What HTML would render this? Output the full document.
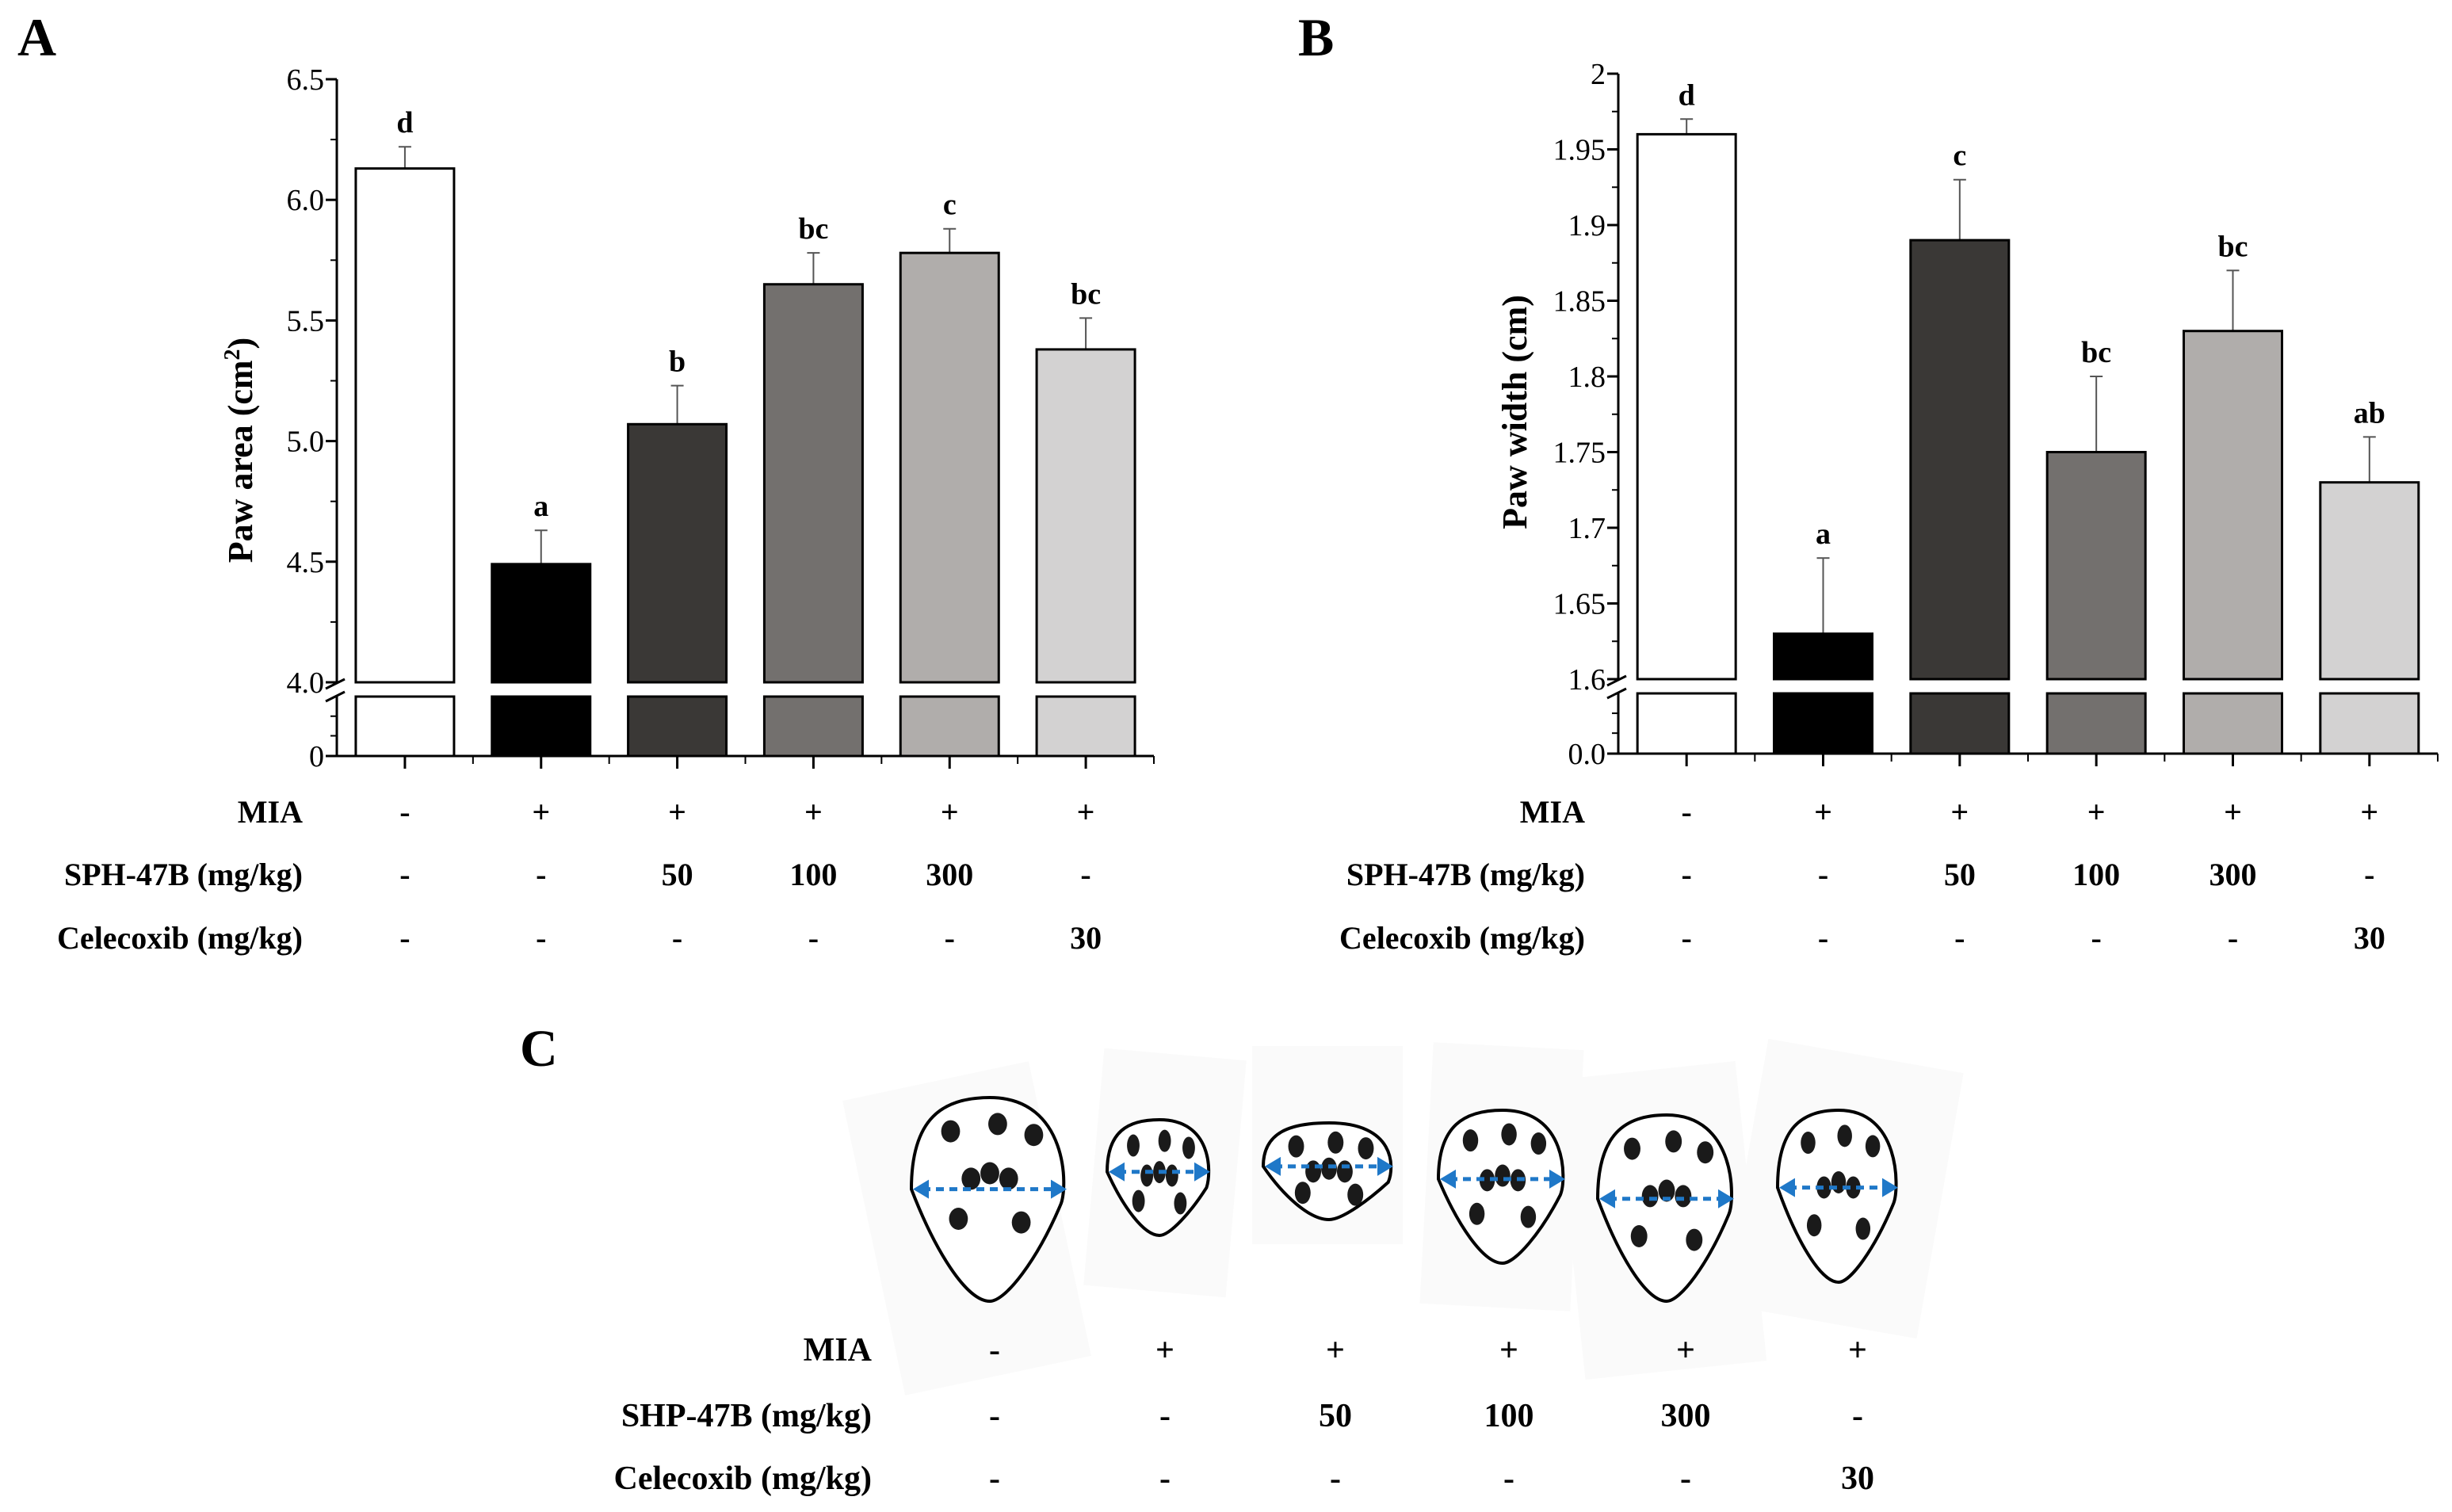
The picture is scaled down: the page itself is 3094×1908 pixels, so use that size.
<!DOCTYPE html>
<html><head><meta charset="utf-8">
<style>
html,body{margin:0;padding:0;background:#fff;}
svg{display:block;font-family:"Liberation Serif",serif;}
</style></head>
<body>
<svg id="fig" width="3094" height="1908" viewBox="0 0 3094 1908" xmlns="http://www.w3.org/2000/svg">
<g id="panelA"></g>
<g id="panelB"></g>
<g id="panelC"></g>
</svg>
<script>
const groups = ["Normal","MIA","SPH50","SPH100","SPH300","Celecoxib"];
const fills = ["#ffffff","#000000","#3a3836","#73706e","#b0adab","#d3d2d2"];
const mia = ["-","+","+","+","+","+"];
const sph = ["-","-","50","100","300","-"];
const cele = ["-","-","-","-","-","30"];
const areaValues = [6.13,4.49,5.07,5.65,5.78,5.38];
const areaErrors = [0.09,0.14,0.16,0.13,0.10,0.13];
const areaLetters = ["d","a","b","bc","c","bc"];
const areaTicks = ["4.0","4.5","5.0","5.5","6.0","6.5"];
const widthValues = [1.96,1.63,1.89,1.75,1.83,1.73];
const widthErrors = [0.01,0.05,0.04,0.05,0.04,0.03];
const widthLetters = ["d","a","c","bc","bc","ab"];
const widthTicks = ["1.6","1.65","1.7","1.75","1.8","1.85","1.9","1.95","2"];

const NS="http://www.w3.org/2000/svg";
function mk(parent,tag,attrs,text){const e=document.createElementNS(NS,tag);for(const k in attrs)e.setAttribute(k,attrs[k]);if(text!==undefined)e.textContent=text;parent.appendChild(e);return e;}

function drawPanel(g,opt){
  const axX=opt.axX, yTop=opt.yTop, yBreak=opt.yBreak, yLow=yBreak+18, y0=opt.y0, xEnd=opt.xEnd;
  const step=(xEnd-axX)/6;
  const xc=i=>axX+step*(i+0.5);
  const y=v=>yBreak-(v-opt.min)/(opt.max-opt.min)*(yBreak-yTop);
  const bw=124;
  let t=mk(g,'text',{x:opt.letterX,y:70,'font-size':68,'font-weight':'bold'},opt.letter);
  
  for(let i=0;i<groups.length;i++){
    const v=opt.values[i], e=opt.errors[i];
    let l=mk(g,'line',{x1:xc(i),x2:xc(i),y1:y(v),y2:y(v+e),stroke:'#555','stroke-width':2});
    
    mk(g,'line',{x1:xc(i)-8,x2:xc(i)+8,y1:y(v+e),y2:y(v+e),stroke:'#555','stroke-width':2});
    let r=mk(g,'rect',{x:xc(i)-bw/2,y:y(v),width:bw,height:yBreak-y(v),fill:fills[i],stroke:'#000','stroke-width':3});
    
    let r2=mk(g,'rect',{x:xc(i)-bw/2,y:yLow,width:bw,height:y0-yLow,fill:fills[i],stroke:'#000','stroke-width':3});
    
    let s=mk(g,'text',{x:xc(i),y:y(v+e)-18,'font-size':38,'font-weight':'bold','text-anchor':'middle'},opt.letters[i]);
    
  }
  let ax=mk(g,'line',{x1:axX,x2:axX,y1:yTop,y2:yBreak,stroke:'#000','stroke-width':3});
  
  mk(g,'line',{x1:axX,x2:axX,y1:yLow,y2:y0,stroke:'#000','stroke-width':3});
  mk(g,'line',{x1:axX-14,x2:axX+10,y1:yBreak+8,y2:yBreak-4,stroke:'#000','stroke-width':3});
  mk(g,'line',{x1:axX-14,x2:axX+10,y1:yLow+6,y2:yLow-6,stroke:'#000','stroke-width':3});
  const n=opt.ticks.length;
  for(let k=0;k<n;k++){
    const v=opt.min+k*(opt.max-opt.min)/(n-1), yy=y(v);
    mk(g,'line',{x1:axX-14,x2:axX,y1:yy,y2:yy,stroke:'#000','stroke-width':3});
    if(k<n-1){const ym=y(v+(opt.max-opt.min)/(n-1)/2);mk(g,'line',{x1:axX-8,x2:axX,y1:ym,y2:ym,stroke:'#000','stroke-width':2});}
    let tl=mk(g,'text',{x:axX-16,y:yy+13,'font-size':38,'text-anchor':'end'},opt.ticks[k]);
    
  }
  for(const f of [0.33,0.66]) {const yy=yLow+(y0-yLow)*f; mk(g,'line',{x1:axX-8,x2:axX,y1:yy,y2:yy,stroke:'#000','stroke-width':2});}
  let zl=mk(g,'text',{x:axX-16,y:y0+13,'font-size':38,'text-anchor':'end'},opt.zero);
  
  mk(g,'line',{x1:axX-14,x2:axX,y1:y0,y2:y0,stroke:'#000','stroke-width':3});
  let xa=mk(g,'line',{x1:axX,x2:xEnd,y1:y0,y2:y0,stroke:'#000','stroke-width':3});
  
  for(let i=0;i<6;i++){
    mk(g,'line',{x1:xc(i),x2:xc(i),y1:y0,y2:y0+16,stroke:'#000','stroke-width':3});
    mk(g,'line',{x1:axX+step*(i+1),x2:axX+step*(i+1),y1:y0,y2:y0+10,stroke:'#000','stroke-width':2});
  }
  let yt=mk(g,'text',{x:0,y:0,'font-size':44,'font-weight':'bold','text-anchor':'middle',transform:`translate(${opt.titleX},${opt.titleY}) rotate(-90)`});
  
  yt.appendChild(document.createTextNode(opt.title));
  if(opt.sup){mk(yt,'tspan',{'font-size':28,dy:-16},'2');mk(yt,'tspan',{dy:16},')');}
  const rows=[["MIA",mia,1025],["SPH-47B  (mg/kg)",sph,1104],["Celecoxib  (mg/kg)",cele,1184]];
  for(const [lab,arr,yy] of rows){
    let rl=mk(g,'text',{x:opt.rowLabelX,y:yy+13,'font-size':40,'font-weight':'bold','text-anchor':'end','xml:space':'preserve'},lab);
    
    for(let i=0;i<6;i++){
      let c=mk(g,'text',{x:xc(i),y:yy+13,'font-size':40,'font-weight':'bold','text-anchor':'middle'},arr[i]);
      
    }
  }
}
drawPanel(document.getElementById('panelA'),{axX:425,xEnd:1456,yTop:100,yBreak:861,y0:954,min:4.0,max:6.5,values:areaValues,errors:areaErrors,letters:areaLetters,ticks:areaTicks,zero:"0",letter:"A",letterX:22,title:"Paw area (cm",sup:true,titleX:318,titleY:568,rowLabelX:382});
drawPanel(document.getElementById('panelB'),{axX:2042,xEnd:3076,yTop:93,yBreak:857,y0:951,min:1.6,max:2.0,values:widthValues,errors:widthErrors,letters:widthLetters,ticks:widthTicks,zero:"0.0",letter:"B",letterX:1638,title:"Paw width (cm)",sup:false,titleX:1926,titleY:520,rowLabelX:2000});

const gc=document.getElementById('panelC');
let cl=mk(gc,'text',{x:656,y:1345,'font-size':66,'font-weight':'bold'},'C');

const paws=[[1150,1348,1385,1642],[1397,1529,1413,1559],[1594,1760,1417,1539],[1815,1977,1401,1594],[2016,2190,1407,1642],[2243,2397,1401,1618]];
const bgs=[[1100,1340,260,380,-12],[1380,1560,230,300,5],[1580,1770,220,250,0],[1800,1990,220,330,3],[1980,2210,250,380,-6],[2200,2450,230,340,10]];
bgs.forEach(b=>{mk(gc,'rect',{x:b[0],y:b[2]+1100,width:b[1]-b[0],height:b[3],fill:'#fafafa',transform:`rotate(${b[4]} ${(b[0]+b[1])/2} ${b[2]+1100+b[3]/2})`});});
paws.forEach((p,i)=>{
  const [x1,x2,y1,y2]=p, cx=(x1+x2)/2, w=x2-x1, h=y2-y1;
  const ay=y1+Math.min(h*0.45,120);
  const d=`M${cx} ${y1} C${x2} ${y1} ${x2} ${ay} ${x2-w*0.05} ${ay+20} C${x2-w*0.2} ${y2-h*0.2} ${cx+w*0.1} ${y2} ${cx} ${y2} C${cx-w*0.15} ${y2} ${x1+w*0.15} ${y2-h*0.25} ${x1} ${ay} C${x1} ${y1+h*0.1} ${cx-w*0.3} ${y1} ${cx} ${y1} Z`;
  let pp=mk(gc,'path',{d,fill:'#fff',stroke:'#000','stroke-width':4});
  
  [[-0.25,0.12],[0.05,0.08],[0.28,0.14],[0,0.35],[-0.12,0.38],[0.12,0.38],[-0.2,0.6],[0.2,0.62]].forEach(s=>{
    mk(gc,'ellipse',{cx:cx+s[0]*w,cy:y1+s[1]*Math.min(h,230)+15,rx:w*0.06,ry:14,fill:'#1a1a1a'});
  });
  let ar=mk(gc,'line',{x1:x1+14,x2:x2-14,y1:ay,y2:ay,stroke:'#1f78c8','stroke-width':5,'stroke-dasharray':'10 7'});
  
  mk(gc,'polygon',{points:`${x1+2},${ay} ${x1+22},${ay-12} ${x1+22},${ay+12}`,fill:'#1f78c8'});
  mk(gc,'polygon',{points:`${x2-2},${ay} ${x2-22},${ay-12} ${x2-22},${ay+12}`,fill:'#1f78c8'});
});
const cx=[1255,1470,1685,1904,2127,2344];
const crow=[["MIA",mia,1703],["SHP-47B  (mg/kg)",sph,1786],["Celecoxib  (mg/kg)",cele,1865]];
for(const [lab,arr,yy] of crow){
  let rl=mk(gc,'text',{x:1100,y:yy+14,'font-size':42,'font-weight':'bold','text-anchor':'end','xml:space':'preserve'},lab);
  
  for(let i=0;i<6;i++){
    let c=mk(gc,'text',{x:cx[i],y:yy+14,'font-size':42,'font-weight':'bold','text-anchor':'middle'},arr[i]);
    
  }
}
</script>
</body></html>
